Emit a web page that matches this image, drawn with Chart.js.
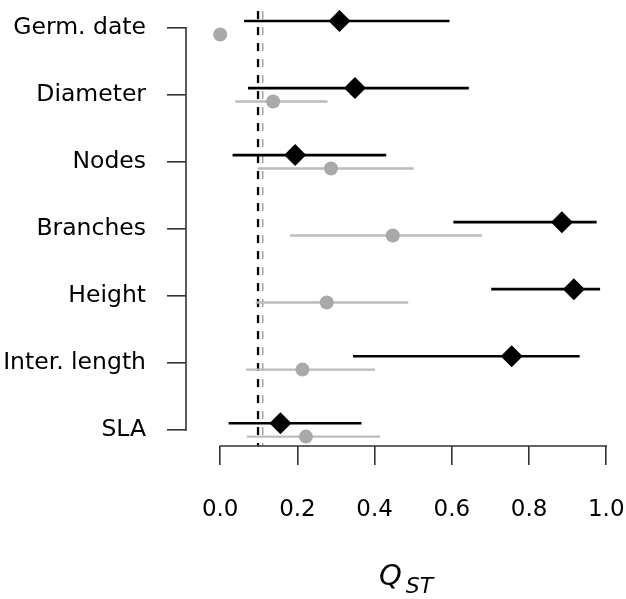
<!DOCTYPE html>
<html>
<head>
<meta charset="utf-8">
<script src="https://cdn.jsdelivr.net/npm/chart.js@4.4.0/dist/chart.umd.min.js"></script>
<style>
  html, body { margin: 0; padding: 0; background: #fff; }
  #wrap { width: 626px; height: 599px; }
</style>
</head>
<body>
<div id="wrap"><canvas id="qstChart" width="626" height="599"></canvas></div>
<script>
// traits, top to bottom
var traits = ['Germ. date', 'Diameter', 'Nodes', 'Branches', 'Height', 'Inter. length', 'SLA'];

// black diamonds: QST estimate with its interval
var qstA = [0.309, 0.349, 0.194, 0.885, 0.916, 0.755, 0.156];
var qstALow = [0.062, 0.072, 0.032, 0.604, 0.702, 0.344, 0.022];
var qstAHigh = [0.594, 0.644, 0.430, 0.975, 0.984, 0.931, 0.366];

// grey circles (no interval for germination date)
var qstB = [0.0, 0.137, 0.287, 0.447, 0.276, 0.213, 0.222];
var qstBLow = [null, 0.039, 0.097, 0.181, 0.092, 0.067, 0.069];
var qstBHigh = [null, 0.278, 0.501, 0.678, 0.487, 0.401, 0.414];

// mean FST reference lines
var fstBlack = 0.098;
var fstGrey = 0.110;

var xTicks = [0.0, 0.2, 0.4, 0.6, 0.8, 1.0];

var yMin = 0.75, yMax = 7.24;
var rowShift = 0.1;

function points(vals, shift) {
    return vals.map(function(v, i) {
        return {x: v, y: i + 1 + shift};
    });
}

// pairs of points split by a null so each interval is its own segment
function intervals(lo, hi, shift) {
    var out = [];
    lo.forEach(function(l, i) {
        if (l === null) return;
        out.push({x: l, y: i + 1 + shift});
        out.push({x: hi[i], y: i + 1 + shift});
        out.push({x: null, y: null});
    });
    return out;
}

function vline(v) {
    return [{x: v, y: yMin}, {x: v, y: yMax}];
}

function noPadding(axis) {
    axis.paddingLeft = 0;
    axis.paddingRight = 0;
    axis.paddingTop = 0;
    axis.paddingBottom = 0;
}

// R style axes: lines only between first and last tick, plus the QST title
var rAxes = {
    id: 'rAxes',
    afterDraw: function(chart) {
        var c = chart.ctx;
        var x = chart.scales.x, y = chart.scales.y;
        var area = chart.chartArea;
        c.save();
        c.strokeStyle = '#333';
        c.lineWidth = 1.6;
        c.beginPath();
        c.moveTo(x.getPixelForValue(xTicks[0]) - 0.8, area.bottom);
        c.lineTo(x.getPixelForValue(xTicks[xTicks.length - 1]) + 0.8, area.bottom);
        c.moveTo(area.left, y.getPixelForValue(1) - 0.8);
        c.lineTo(area.left, y.getPixelForValue(traits.length) + 0.8);
        c.stroke();

        c.fillStyle = '#000';
        c.textBaseline = 'alphabetic';
        c.font = 'italic 29px "DejaVu Sans"';
        var wQ = c.measureText('Q').width;
        c.font = 'italic 22px "DejaVu Sans"';
        var wS = c.measureText('ST').width;
        var x0 = area.left + 220 - (wQ + 4 + wS) / 2;
        c.font = 'italic 29px "DejaVu Sans"';
        c.fillText('Q', x0, 585);
        c.font = 'italic 22px "DejaVu Sans"';
        c.fillText('ST', x0 + wQ + 4, 593);
        c.restore();
    }
};

var ctx = document.getElementById('qstChart').getContext('2d');
var qstChart = new Chart(ctx, {
    type: 'scatter',
    data: {
        datasets: [{
            data: points(qstA, -rowShift),
            pointStyle: 'rectRot',
            pointRadius: 11,
            pointBackgroundColor: '#000',
            pointBorderWidth: 0,
            clip: false
        }, {
            data: points(qstB, rowShift),
            pointStyle: 'circle',
            pointRadius: 7,
            pointBackgroundColor: '#a9a9a9',
            pointBorderWidth: 0,
            clip: false
        }, {
            data: intervals(qstALow, qstAHigh, -rowShift),
            showLine: true,
            spanGaps: false,
            borderColor: '#000',
            borderWidth: 2.6,
            pointRadius: 0
        }, {
            data: intervals(qstBLow, qstBHigh, rowShift),
            showLine: true,
            spanGaps: false,
            borderColor: '#bcbcbc',
            borderWidth: 2.4,
            pointRadius: 0
        }, {
            data: vline(fstBlack),
            showLine: true,
            borderColor: '#000',
            borderWidth: 2.3,
            borderDash: [8, 8],
            pointRadius: 0
        }, {
            data: vline(fstGrey),
            showLine: true,
            borderColor: '#a0a0a0',
            borderWidth: 1.5,
            borderDash: [8, 8],
            pointRadius: 0
        }]
    },
    options: {
        responsive: false,
        animation: false,
        layout: { padding: { top: 8, right: 1, left: 0, bottom: 0 } },
        plugins: {
            legend: { display: false },
            tooltip: { enabled: false }
        },
        scales: {
            x: {
                type: 'linear',
                min: -0.0886,
                max: 1.0226,
                border: { display: false },
                grid: {
                    drawOnChartArea: false,
                    drawTicks: true,
                    tickLength: 19,
                    color: '#333',
                    lineWidth: 1.6
                },
                afterBuildTicks: function(axis) {
                    axis.ticks = xTicks.map(function(v) { return {value: v}; });
                },
                afterFit: function(axis) {
                    axis.height = 153;
                    noPadding(axis);
                },
                ticks: {
                    autoSkip: false,
                    maxRotation: 0,
                    padding: 31,
                    color: '#000',
                    font: { family: 'DejaVu Sans', size: 23 },
                    callback: function(v) { return v.toFixed(1); }
                }
            },
            y: {
                type: 'linear',
                reverse: true,
                min: yMin,
                max: yMax,
                border: { display: false },
                grid: {
                    drawOnChartArea: false,
                    drawTicks: true,
                    tickLength: 19,
                    color: '#333',
                    lineWidth: 1.6
                },
                afterBuildTicks: function(axis) {
                    axis.ticks = traits.map(function(t, i) { return {value: i + 1}; });
                },
                afterFit: function(axis) {
                    axis.width = 186;
                    noPadding(axis);
                },
                ticks: {
                    autoSkip: false,
                    padding: 21,
                    color: '#000',
                    font: { family: 'DejaVu Sans', size: 23.5 },
                    callback: function(v) { return traits[v - 1]; }
                }
            }
        }
    },
    plugins: [rAxes]
});
</script>
</body>
</html>
